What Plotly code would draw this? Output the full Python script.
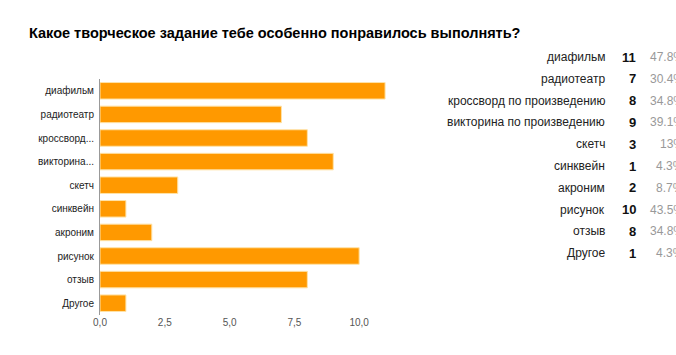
import plotly.graph_objects as go

title = "Какое творческое задание тебе особенно понравилось выполнять?"
short_labels = ["диафильм", "радиотеатр", "кроссворд...", "викторина...", "скетч",
                "синквейн", "акроним", "рисунок", "отзыв", "Другое"]
full_labels = ["диафильм", "радиотеатр", "кроссворд по произведению",
               "викторина по произведению", "скетч", "синквейн", "акроним",
               "рисунок", "отзыв", "Другое"]
counts = [11, 7, 8, 9, 3, 1, 2, 10, 8, 1]
percents = ["47.8%", "30.4%", "34.8%", "39.1%", "13%", "4.3%", "8.7%", "43.5%", "34.8%", "4.3%"]
x_ticks = [0, 2.5, 5, 7.5, 10]

W, H = 676, 355
L, R, T, B = 100, 265, 79, 40
pw, ph = W - L - R, H - T - B

def px(x):
    return (x - L) / pw

def py(y):
    return 1 - (y - T) / ph

FONT = "Liberation Sans, Arial, sans-serif"

fig = go.Figure(go.Bar(
    x=counts, y=short_labels, orientation="h",
    marker=dict(color="#FF9900", line=dict(color="#FFE3A8", width=1)),
    hoverinfo="skip",
))

annotations = []
for i, (lab, c, p) in enumerate(zip(full_labels, counts, percents)):
    yy = py(57 + 21.8 * i)
    annotations.append(dict(x=px(607), y=yy, xref="paper", yref="paper", text=lab,
                            showarrow=False, xanchor="right", yanchor="middle",
                            font=dict(family=FONT, size=12, color="#222222")))
    annotations.append(dict(x=px(638), y=yy, xref="paper", yref="paper", text="<b>%d</b>" % c,
                            showarrow=False, xanchor="right", yanchor="middle",
                            font=dict(family=FONT, size=13, color="#111111")))
    annotations.append(dict(x=px(686), y=yy, xref="paper", yref="paper", text=p,
                            showarrow=False, xanchor="right", yanchor="middle",
                            font=dict(family=FONT, size=12, color="#999999")))

fig.update_layout(
    width=W, height=H,
    margin=dict(l=L, r=R, t=T, b=B, pad=0, autoexpand=False),
    paper_bgcolor="white", plot_bgcolor="white",
    bargap=0.3,
    showlegend=False,
    title=dict(text="<b>" + title + "</b>", xref="container", yref="container",
               x=29 / W, xanchor="left", y=1 - 33 / H, yanchor="middle",
               font=dict(family=FONT, size=14.5, color="#000000")),
    xaxis=dict(range=[0, 12], tickvals=x_ticks, tickformat=".1f",
               showgrid=False, zeroline=False, showline=False, ticks="",
               automargin=False,
               tickfont=dict(family=FONT, size=10, color="#555555")),
    yaxis=dict(autorange="reversed", showgrid=False, zeroline=False,
               showline=True, linecolor="#999999", linewidth=1, ticks="",
               automargin=False, ticklabelstandoff=3,
               tickfont=dict(family=FONT, size=10, color="#222222")),
    separators=",.",
    annotations=annotations,
    font=dict(family=FONT),
)

fig.write_html("out.html", config={"displayModeBar": False},
               post_script="document.body.style.margin='0';document.body.style.overflow='hidden';")
